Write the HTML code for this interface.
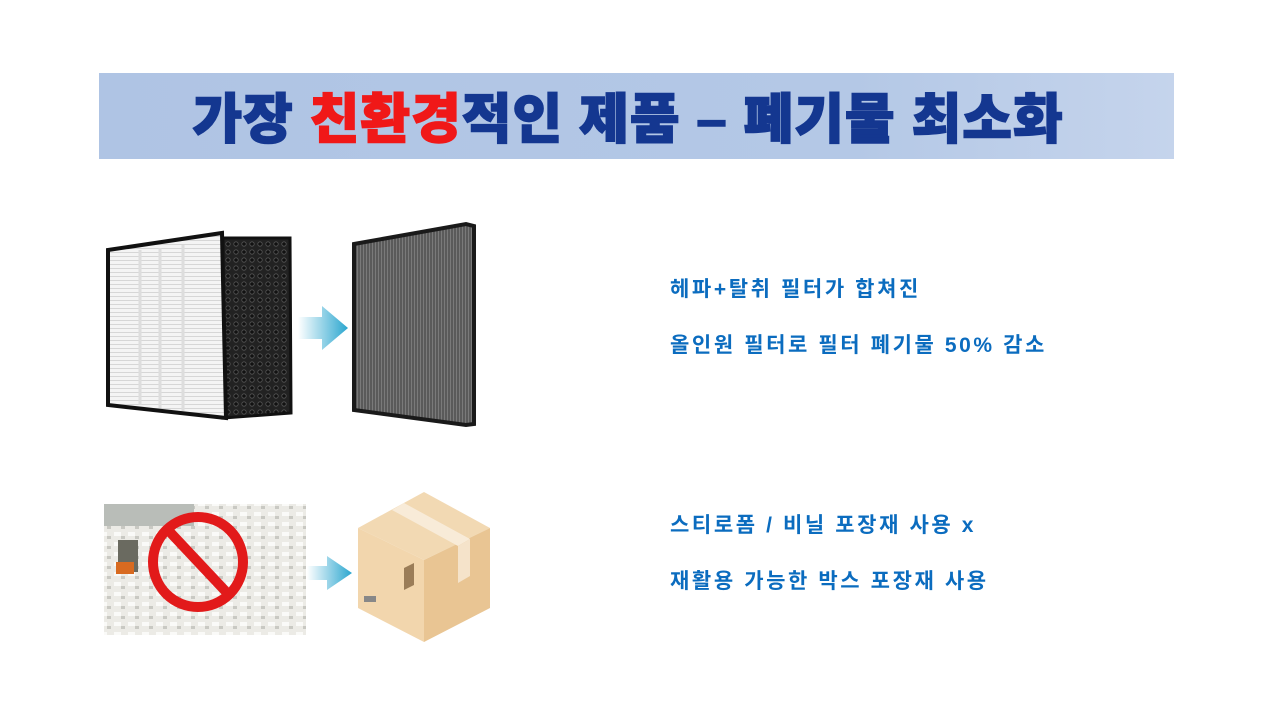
<!DOCTYPE html>
<html><head><meta charset="utf-8"><style>
body{margin:0;width:1280px;height:720px;background:#fff;overflow:hidden;position:relative;font-family:"Liberation Sans","Noto Sans CJK KR",sans-serif}
.t{position:absolute;left:670px;color:#0b6cbf;font-weight:bold;font-size:21px;letter-spacing:2.6px;white-space:nowrap}
</style></head><body>
<svg width="1280" height="720" style="position:absolute;left:0;top:0">
<defs>
<linearGradient id="bar" x1="0" x2="1"><stop offset="0" stop-color="#afc4e4"/><stop offset="0.7" stop-color="#b4c8e6"/><stop offset="1" stop-color="#c5d4ec"/></linearGradient>
<linearGradient id="arr" x1="0" x2="1"><stop offset="0" stop-color="#fff"/><stop offset="1" stop-color="#2aa6cf"/></linearGradient>
<pattern id="pl" width="4" height="4" patternUnits="userSpaceOnUse"><rect width="4" height="4" fill="#f4f4f4"/><rect width="4" height="1" fill="#d6d6d6"/></pattern>
<pattern id="hex" width="8" height="8" patternUnits="userSpaceOnUse"><rect width="8" height="8" fill="#222"/><circle cx="4" cy="4" r="2.6" fill="#555"/><circle cx="4" cy="4" r="1.8" fill="#111"/></pattern>
<pattern id="gr" width="3" height="3" patternUnits="userSpaceOnUse"><rect width="3" height="3" fill="#5a5a5a"/><rect width="1" height="3" fill="#7a7a7a"/></pattern>
<pattern id="foam" width="14" height="10" patternUnits="userSpaceOnUse"><rect width="14" height="10" fill="#ecebe6"/><rect x="2" y="2" width="7" height="4" fill="#fafaf8"/><rect x="9" y="6" width="4" height="3" fill="#c9c9c3"/></pattern>
</defs>
<rect x="99" y="73" width="1075" height="86" fill="url(#bar)"/>
<text x="628" y="138" text-anchor="middle" font-family="Liberation Sans,Noto Sans CJK KR,sans-serif" font-weight="900" font-size="54" letter-spacing="1" fill="#143790" stroke="#143790" stroke-width="1.5">가장 <tspan fill="#f01818" stroke="#f01818">친환경</tspan>적인 제품 – 폐기물 최소화</text>
<polygon points="223,238 290,238 291,413 223,418" fill="url(#hex)" stroke="#111" stroke-width="3"/>
<polygon points="108,250 222,233 226,418 108,405" fill="url(#pl)" stroke="#111" stroke-width="4"/>
<line x1="140" y1="250" x2="140" y2="405" stroke="#ddd" stroke-width="3"/>
<line x1="160" y1="248" x2="160" y2="408" stroke="#ddd" stroke-width="3"/>
<line x1="183" y1="245" x2="183" y2="411" stroke="#ddd" stroke-width="3"/>
<path d="M298,317 h24 v-11 l26,22 l-26,22 v-11 h-24z" fill="url(#arr)"/>
<polygon points="354,244 466,224 474,226 474,424 466,425 354,410" fill="url(#gr)" stroke="#1a1a1a" stroke-width="4"/>
<rect x="104" y="504" width="202" height="131" fill="url(#foam)"/>
<rect x="104" y="504" width="90" height="22" fill="#b9bdb8"/>
<rect x="118" y="540" width="20" height="32" fill="#6a6a60"/>
<rect x="116" y="562" width="18" height="12" fill="#d86a20"/>
<circle cx="198" cy="562" r="45" fill="none" stroke="#e21a1a" stroke-width="10"/>
<line x1="168" y1="530" x2="230" y2="596" stroke="#e21a1a" stroke-width="10"/>
<path d="M307,566 h20 v-10 l25,17 l-25,17 v-10 h-20z" fill="url(#arr)"/>
<polygon points="424,492 490,528 424,560 358,528" fill="#f2d9b3"/>
<polygon points="358,528 424,560 424,642 358,608" fill="#f2d6ad"/>
<polygon points="424,560 490,528 490,608 424,642" fill="#e9c593"/>
<polygon points="392,510 404,503 470,539 458,546" fill="#f8ebd8"/>
<polygon points="458,546 470,539 470,576 458,583" fill="#f5e3ca"/>
<polygon points="404,568 414,563 414,585 404,590" fill="#9b7d58"/>
<rect x="364" y="596" width="12" height="6" fill="#888"/>
</svg>
<div class="t" style="top:273px">헤파+탈취 필터가 합쳐진</div>
<div class="t" style="top:329px">올인원 필터로 필터 폐기물 50% 감소</div>
<div class="t" style="top:509px">스티로폼 / 비닐 포장재 사용 x</div>
<div class="t" style="top:565px">재활용 가능한 박스 포장재 사용</div>
</body></html>
